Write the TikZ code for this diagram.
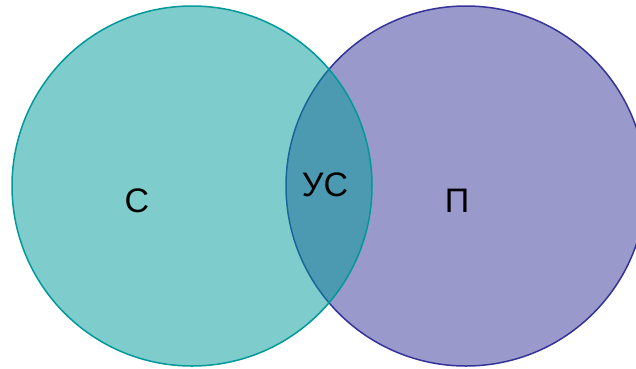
\documentclass[tikz,border=0pt]{standalone}
\usepackage{fontspec}
\setmainfont{Liberation Sans}
\definecolor{tealfill}{HTML}{009999}
\definecolor{tealline}{HTML}{009999}
\definecolor{violetfill}{HTML}{333399}
\definecolor{violetline}{HTML}{333399}
\begin{document}
\begin{tikzpicture}[x=1pt,y=-1pt,
  lbl/.style={font=\fontsize{34}{40}\selectfont, text=black, inner sep=0pt}]
\useasboundingbox (0,0) rectangle (636,368);
\clip (0,0) rectangle (636,368);
\path[fill=violetfill, fill opacity=0.5, draw=violetline, line width=1.5pt] (466,186) circle [radius=180];
\path[fill=tealfill, fill opacity=0.5, draw=tealline, line width=1.5pt] (192,186) circle [radius=180];
\node[lbl] (s) at (137,201) {С};
\node[lbl] (us) at (325,185) {УС};
\node[lbl] (p) at (457,201) {П};
\end{tikzpicture}
\end{document}
